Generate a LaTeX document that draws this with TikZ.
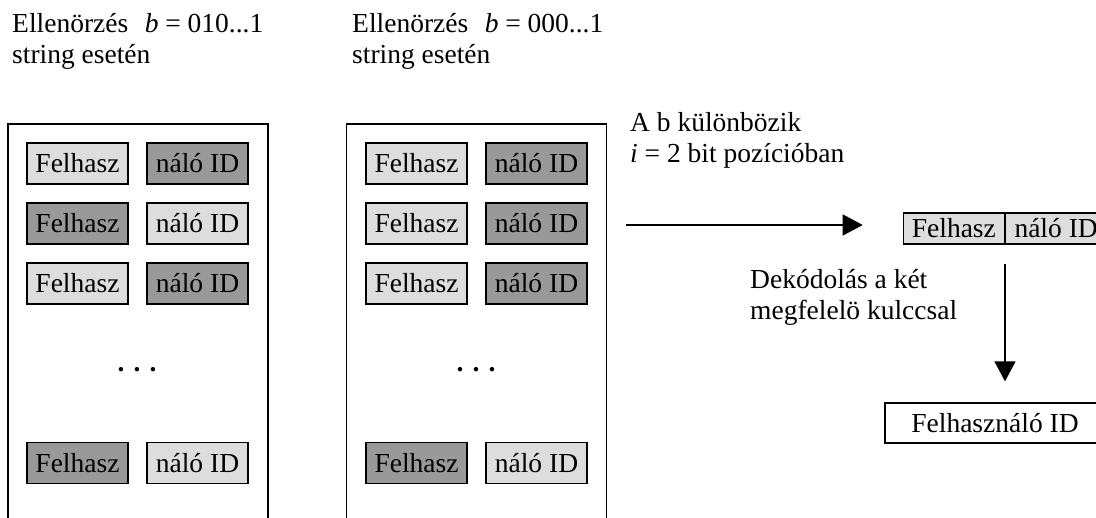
\documentclass[tikz,border=0pt]{standalone}
\usepackage{fontspec}
\setmainfont{Liberation Serif}
\usetikzlibrary{arrows.meta,positioning,calc}
\definecolor{idlight}{HTML}{DDDDDD}
\definecolor{iddark}{HTML}{999999}
\tikzset{
  part/.style   = {draw,line width=1.3pt,minimum width=101pt,minimum height=41pt,
                   inner sep=0pt},
  lite/.style   = {part,fill=idlight},
  dark/.style   = {part,fill=iddark},
  frame/.style  = {draw,line width=1.6pt,minimum width=260pt,minimum height=440pt,
                   anchor=north},
  note/.style   = {align=left,inner sep=0pt,anchor=base west},
  sig/.style    = {-{Triangle[length=20pt,width=21pt]},line width=1.4pt},
}
\newcommand{\idpair}[5]{%
  \node[#4] (#1-a) at (#2,#3) {Felhasz};
  \node[#5] (#1-b) at (#2+120,#3) {náló ID};
}

\begin{document}
\begin{tikzpicture}[x=1pt,y=-1pt,font=\fontsize{27.5}{31}\selectfont]
  \useasboundingbox (0,0) rectangle (1096,518);
  \clip (0,0) rectangle (1096,518);
  % the two string checks
  \node[frame] (fr1) at (138,123.5) {};
  \node[frame] (fr2) at (476.5,123.5) {};
  \node[note] (chk1) at (12,64) {Ellenörzés\hspace{0.6em}\textit{b} = 010...1\\string esetén};
  \node[note] (chk2) at (352,64) {Ellenörzés\hspace{0.6em}\textit{b} = 000...1\\string esetén};
  \idpair{p1}{77.5}{163.5}{lite}{dark}
  \idpair{p2}{77.5}{223.5}{dark}{lite}
  \idpair{p3}{77.5}{283.5}{lite}{dark}
  \idpair{p4}{77.5}{463}{dark}{lite}
  \node[anchor=base,font=\fontsize{27.5}{31}\bfseries] (gap1) at (137,372) {. . .};
  \idpair{q1}{416.5}{163.5}{lite}{dark}
  \idpair{q2}{416.5}{223.5}{lite}{dark}
  \idpair{q3}{416.5}{283.5}{lite}{dark}
  \idpair{q4}{416.5}{463}{dark}{lite}
  \node[anchor=base,font=\fontsize{27.5}{31}\bfseries] (gap2) at (476,372) {. . .};
  % result and decoding
  \node[lite,minimum height=31pt,anchor=east] (res-a) at (1005,228.5) {Felhasz};
  \node[lite,minimum height=31pt,right=0pt of res-a] (res-b) {náló ID};
  \node[part,minimum width=220pt,minimum height=40pt] (out) at (995,423) {Felhasználó ID};
  \node[note] (diff) at (630,163) {A b különbözik\\\textit{i} = 2 bit pozícióban};
  \node[note] (dec) at (750,320) {Dekódolás a két\\megfelelö kulccsal};
  \coordinate (tip) at ($(res-a.west)+(0,-3.5)$);
  \draw[sig,shorten <=18.5pt,shorten >=40pt] (fr2.east |- tip) -- (tip);
  \draw[sig,shorten <=19pt,shorten >=21pt] (res-a.south east) -- (res-a.south east |- out.north);
\end{tikzpicture}
\end{document}
